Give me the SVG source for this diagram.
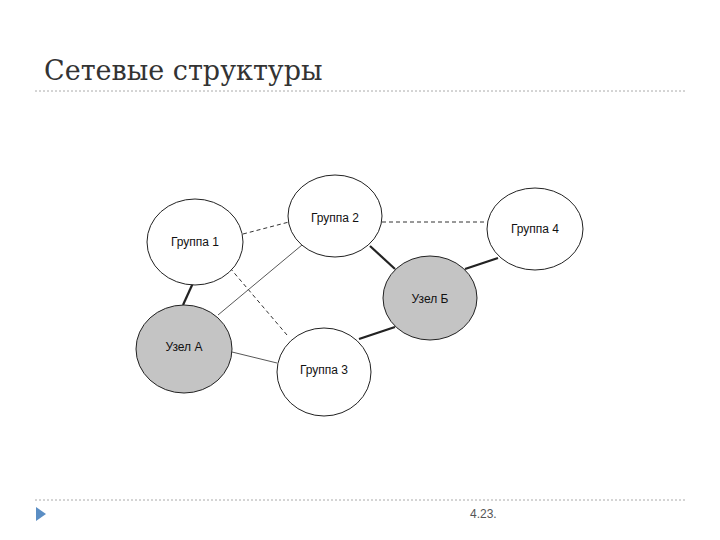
<svg xmlns="http://www.w3.org/2000/svg" width="720" height="540" viewBox="0 0 720 540">
<style>
.n{stroke:#222;stroke-width:1}
.w{fill:#fff}
.g{fill:#c4c4c4}
.t{font-family:"Liberation Sans",Arial,sans-serif;font-size:12px;text-anchor:middle;fill:#111}
.d{stroke:#333;stroke-width:1;stroke-dasharray:4,3;fill:none}
.s{stroke:#222;stroke-width:2.2;fill:none}
.f{stroke:#444;stroke-width:0.9;fill:none}
.sep{stroke:#aaa;stroke-width:1;stroke-dasharray:2,2}
</style>
<rect width="720" height="540" fill="#fff"/>
<text x="44" y="80" font-family="'DejaVu Serif','Liberation Serif',serif" font-size="27" fill="#333">Сетевые структуры</text>
<line class="sep" x1="35" y1="91" x2="686" y2="91"/>
<g id="connectors">
<line class="d" x1="243" y1="234" x2="289" y2="222"/>
<line class="d" x1="382" y1="222" x2="487" y2="222"/>
<line class="d" x1="230" y1="268" x2="287" y2="335"/>
<line class="f" x1="302" y1="245" x2="218" y2="315"/>
<line class="s" x1="193" y1="283" x2="183" y2="305"/>
<line class="s" x1="370" y1="246" x2="395" y2="269"/>
<line class="s" x1="498" y1="258" x2="465" y2="269"/>
<line class="s" x1="395" y1="327" x2="359" y2="339"/>
<line class="f" x1="232" y1="352" x2="277" y2="363"/>
</g>
<g id="g1"><ellipse class="n w" cx="195" cy="242" rx="48" ry="43"/><text class="t" x="195" y="246">Группа 1</text></g>
<g id="g2"><ellipse class="n w" cx="335" cy="216" rx="47" ry="41"/><text class="t" x="335" y="222">Группа 2</text></g>
<g id="g4"><ellipse class="n w" cx="535" cy="229" rx="48" ry="41"/><text class="t" x="535" y="233">Группа 4</text></g>
<g id="ub"><ellipse class="n g" cx="430" cy="298" rx="47" ry="42"/><text class="t" x="430" y="303">Узел Б</text></g>
<g id="ua"><ellipse class="n g" cx="184" cy="349" rx="48" ry="44"/><text class="t" x="184" y="351">Узел А</text></g>
<g id="g3"><ellipse class="n w" cx="324" cy="372" rx="47" ry="44"/><text class="t" x="324" y="374">Группа 3</text></g>
<line class="sep" x1="35" y1="500" x2="686" y2="500"/>
<polygon points="36,507 46,514 36,521" fill="#5b8ec4"/>
<text x="470" y="518" font-family="'Liberation Sans',Arial,sans-serif" font-size="12" fill="#555">4.23.</text>
</svg>
